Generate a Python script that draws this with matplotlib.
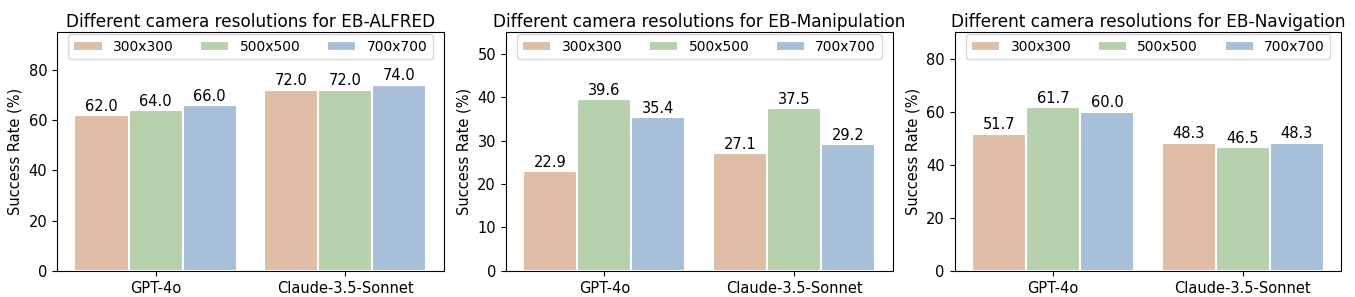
import numpy as np
import matplotlib.pyplot as plt

models = ['GPT-4o', 'Claude-3.5-Sonnet']
resolutions = ['300x300', '500x500', '700x700']
colors = ['#e0bea6', '#b7d0ae', '#a8bfda']

titles = ['Different camera resolutions for EB-ALFRED',
          'Different camera resolutions for EB-Manipulation',
          'Different camera resolutions for EB-Navigation']

# rows = resolution, cols = model
alfred = [[62.0, 72.0], [64.0, 72.0], [66.0, 74.0]]
manip = [[22.9, 27.1], [39.6, 37.5], [35.4, 29.2]]
nav = [[51.7, 48.3], [61.7, 46.5], [60.0, 48.3]]
ylims = [95, 55, 90]
yticks = [[0, 20, 40, 60, 80], [0, 10, 20, 30, 40, 50], [0, 20, 40, 60, 80]]

fig, axs = plt.subplots(1, 3, figsize=(13.55, 2.97), dpi=100)
x = np.arange(len(models))
w = 0.285

for ax, data, title, ylim, yt in zip(axs, [alfred, manip, nav], titles, ylims, yticks):
    for i, res in enumerate(resolutions):
        bars = ax.bar(x + (i - 1) * w, data[i], w, color=colors[i], label=res,
                      edgecolor='white', linewidth=1.5)
        ax.bar_label(bars, labels=['%.1f' % v for v in data[i]], fontsize=10.5, padding=1)
    ax.set_title(title, fontsize=12.2, pad=4)
    ax.set_ylabel('Success Rate (%)', fontsize=10.5)
    ax.set_xticks(x)
    ax.set_xticklabels(models, fontsize=10.5)
    ax.set_yticks(yt)
    ax.tick_params(axis='y', labelsize=10.5)
    ax.set_ylim(0, ylim)
    ax.legend(loc='upper center', ncol=3, fontsize=10, borderaxespad=0.15,
              handlelength=2.1, handleheight=0.7, handletextpad=0.75,
              columnspacing=1.9)

plt.subplots_adjust(left=0.042, right=0.990, bottom=0.088, top=0.892, wspace=0.16)
plt.savefig('out.png')
